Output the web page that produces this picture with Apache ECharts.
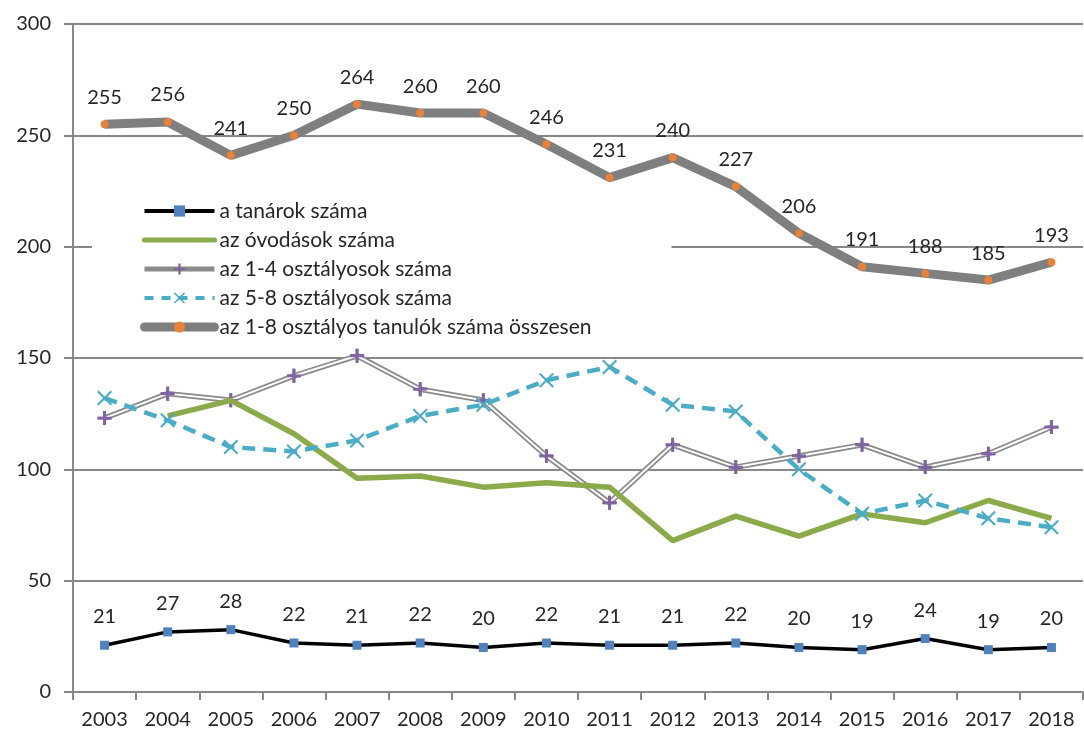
<!DOCTYPE html>
<html>
<head>
<meta charset="utf-8">
<script src="https://cdn.jsdelivr.net/npm/echarts@6/dist/echarts.min.js"></script>
<style>
  html, body { margin: 0; padding: 0; background: #fff; }
  #chart { width: 1084px; height: 733px; }
</style>
</head>
<body>
<div id="chart"></div>
<script>
const years = ['2003', '2004', '2005', '2006', '2007', '2008', '2009', '2010',
  '2011', '2012', '2013', '2014', '2015', '2016', '2017', '2018']

const tanarok = [21, 27, 28, 22, 21, 22, 20, 22, 21, 21, 22, 20, 19, 24, 19, 20]
const ovodasok = [null, 124, 131, 116, 96, 97, 92, 94, 92, 68, 79, 70, 80, 76, 86, 78]
const also = [123, 134, 131, 142, 151, 136, 131, 106, 85, 111, 101, 106, 111, 101, 107, 119]
const felso = [132, 122, 110, 108, 113, 124, 129, 140, 146, 129, 126, 100, 80, 86, 78, 74]
const osszesen = [255, 256, 241, 250, 264, 260, 260, 246, 231, 240, 227, 206, 191, 188, 185, 193]

const names = [
  'a tanárok száma',
  'az óvodások száma',
  'az 1-4 osztályosok száma',
  'az 5-8 osztályosok száma',
  'az 1-8 osztályos tanulók száma összesen'
]

const textColor = '#262626'
const gridColor = '#888888'
const font = 'Lato, "Open Sans", sans-serif'

const plusPath = 'path://M4,0h2v4h4v2h-4v4h-2v-4h-4v-2h4z'
const crossPath = 'path://M1,0L5,4L9,0L10,1L6,5L10,9L9,10L5,6L1,10L0,9L4,5L0,1z'

const chart = echarts.init(document.getElementById('chart'))

const option = {
  backgroundColor: '#fff',
  animation: false,
  textStyle: { fontFamily: font },
  grid: { left: 73, right: 1, top: 24, bottom: 41 },
  legend: {
    orient: 'vertical',
    left: 92,
    top: 194,
    padding: [6, 80, 6, 48],
    backgroundColor: '#fff',
    itemWidth: 70,
    itemHeight: 14,
    itemGap: 7,
    data: [
      { name: names[0], lineStyle: { color: '#000', width: 4 }, itemStyle: { color: '#4F81BD' } },
      { name: names[1], lineStyle: { color: '#8BAA4A', width: 5, cap: 'round' }, itemStyle: { opacity: 0 } },
      { name: names[2], lineStyle: { color: '#8a8a8a', width: 5 }, itemStyle: { color: '#8064A2' } },
      { name: names[3], lineStyle: { color: '#4BACC6', width: 4, type: [9, 8] }, itemStyle: { color: '#4BACC6' } },
      { name: names[4], lineStyle: { color: '#7F7F7F', width: 9, cap: 'round' }, itemStyle: { color: '#E8823A' } }
    ],
    textStyle: { color: textColor, fontSize: 21, fontFamily: font, lineHeight: 22 }
  },
  xAxis: {
    type: 'category',
    data: years,
    axisLine: { lineStyle: { color: gridColor, width: 2 } },
    axisTick: { show: true, length: 8, lineStyle: { color: gridColor, width: 2 } },
    axisLabel: { color: textColor, fontSize: 20, margin: 18, fontFamily: font }
  },
  yAxis: {
    type: 'value',
    min: 0,
    max: 300,
    interval: 50,
    axisLine: { show: true, lineStyle: { color: gridColor, width: 2 } },
    axisTick: { show: true, length: 9, lineStyle: { color: gridColor, width: 2 } },
    axisLabel: { color: textColor, fontSize: 20, margin: 22, fontFamily: font },
    splitLine: { lineStyle: { color: gridColor, width: 2 } }
  },
  series: [
    {
      name: names[0],
      type: 'line',
      data: tanarok,
      z: 6,
      symbol: 'rect',
      symbolSize: 9,
      color: '#4F81BD',
      lineStyle: { color: '#000', width: 3.5 },
      itemStyle: { color: '#4F81BD' },
      label: { show: true, position: 'top', distance: 14, color: textColor, fontSize: 20, fontFamily: font }
    },
    {
      name: names[1],
      type: 'line',
      data: ovodasok,
      z: 3,
      symbol: 'none',
      color: '#8BAA4A',
      lineStyle: { color: '#8BAA4A', width: 5.5 }
    },
    {
      name: names[2],
      type: 'line',
      data: also,
      z: 2,
      symbol: plusPath,
      symbolSize: 14,
      color: '#8064A2',
      lineStyle: { color: '#8a8a8a', width: 5.5 },
      itemStyle: { color: '#8064A2' }
    },
    {
      name: 'also-inner',
      type: 'line',
      data: also,
      z: 2.5,
      silent: true,
      symbol: 'none',
      lineStyle: { color: '#fff', width: 2 }
    },
    {
      name: 'also-marks',
      type: 'line',
      data: also,
      z: 2.6,
      silent: true,
      symbol: plusPath,
      symbolSize: 14,
      lineStyle: { opacity: 0 },
      itemStyle: { color: '#8064A2' }
    },
    {
      name: names[3],
      type: 'line',
      data: felso,
      z: 4,
      symbol: crossPath,
      symbolSize: 15,
      color: '#4BACC6',
      lineStyle: { color: '#4BACC6', width: 4.5, type: [13, 8] },
      itemStyle: { color: '#4BACC6' }
    },
    {
      name: names[4],
      type: 'line',
      data: osszesen,
      z: 5,
      symbol: 'circle',
      symbolSize: 8,
      color: '#E8823A',
      lineStyle: { color: '#7F7F7F', width: 9 },
      itemStyle: { color: '#E8823A' },
      label: { show: true, position: 'top', distance: 13, color: textColor, fontSize: 20, fontFamily: font }
    }
  ]
}

chart.setOption(option)
</script>
</body>
</html>
